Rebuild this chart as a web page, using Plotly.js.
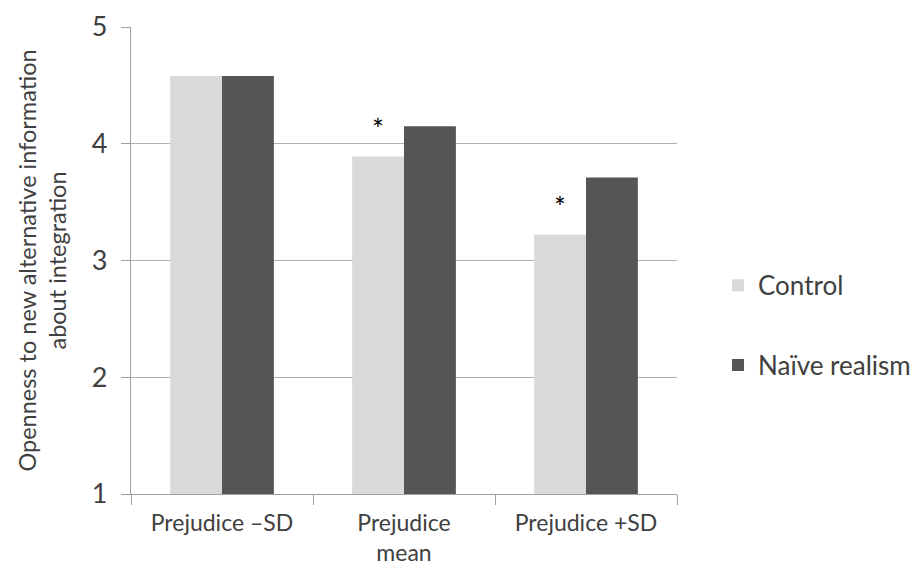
<!DOCTYPE html>
<html>
<head>
<meta charset="utf-8">
<script src="https://cdn.plot.ly/plotly-3.0.1.min.js"></script>
<style>html,body{margin:0;padding:0;background:#fff;}#chart{width:917px;height:581px;}</style>
</head>
<body>
<div id="chart"></div>
<script>
const categories = ["Prejudice –SD", "Prejudice<br>mean", "Prejudice +SD"];
const seriesNames = ["Control", "Naïve realism"];
const controlValues = [4.58, 3.89, 3.22];
const naiveValues = [4.58, 4.15, 3.71];
const significant = [false, true, true];
const yTicks = [1, 2, 3, 4, 5];

const FONT = "Lato, 'Open Sans', sans-serif";
const TEXT = "#404040";

const traces = [
  {type: "bar", name: seriesNames[0], x: categories, y: controlValues,
   marker: {color: "#d9d9d9"}, legendgroup: "a", hoverinfo: "y"},
  {type: "bar", name: seriesNames[1], x: categories, y: naiveValues,
   marker: {color: "#555555"}, legendgroup: "b", hoverinfo: "y"}
];

const annotations = [];
categories.forEach((c, i) => {
  if (significant[i]) {
    annotations.push({x: c, y: controlValues[i], xref: "x", yref: "y",
      text: "*", showarrow: false, xshift: -26, yanchor: "bottom", yshift: 9,
      font: {family: FONT, size: 28, color: "#000"}});
  }
});

const layout = {
  width: 917, height: 581,
  margin: {l: 131, r: 240, t: 27, b: 87},
  paper_bgcolor: "#fff", plot_bgcolor: "#fff",
  barmode: "group", bargap: 0.43, bargroupgap: 0,
  font: {family: FONT, size: 23, color: TEXT},
  xaxis: {type: "category", showline: true, linecolor: "#a0a0a0", linewidth: 1.3,
    ticks: "outside", tickson: "boundaries", ticklen: 10, tickcolor: "#a0a0a0",
    tickfont: {family: FONT, size: 23, color: TEXT}, ticklabelstandoff: 8, zeroline: false},
  yaxis: {range: [1, 5], tickvals: yTicks, showline: true, linecolor: "#a0a0a0", linewidth: 1.3,
    ticks: "outside", ticklen: 9, tickcolor: "#a0a0a0", showgrid: true, gridcolor: "#b0b0b0",
    gridwidth: 1.3, zeroline: false, tickfont: {family: FONT, size: 27, color: TEXT},
    ticklabelstandoff: 8,
    title: {text: "Openness to new alternative information<br>about integration",
      font: {family: FONT, size: 23.5, color: TEXT}, standoff: 18}},
  legend: {xref: "container", yref: "container", x: 0.783, xanchor: "left", y: 0.44, yanchor: "middle",
    font: {family: FONT, size: 26, color: TEXT}, tracegroupgap: 43, traceorder: "grouped"},
  annotations: annotations,
  showlegend: true
};

Plotly.newPlot("chart", traces, layout, {displayModeBar: false, staticPlot: true});
</script>
</body>
</html>
